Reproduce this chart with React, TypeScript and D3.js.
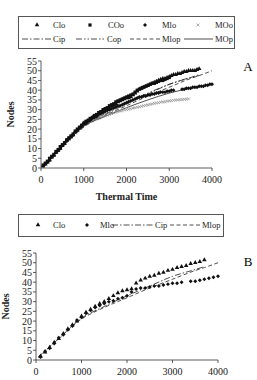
import React from "react";
import * as d3 from "d3";

// thermal time for the observed series (panel A every 50, panel B every 100)
const thermalA = [
  50, 100, 150, 200, 250, 300, 350, 400, 450, 500,
  550, 600, 650, 700, 750, 800, 850, 900, 950, 1000,
  1050, 1100, 1150, 1200, 1250, 1300, 1350, 1400, 1450, 1500,
  1550, 1600, 1650, 1700, 1750, 1800, 1850, 1900, 1950, 2000,
  2050, 2100, 2150, 2200, 2250, 2300, 2350, 2400, 2450, 2500,
  2550, 2600, 2650, 2700, 2750, 2800, 2850, 2900, 2950, 3000,
  3050, 3100, 3150, 3200, 3250, 3300, 3350, 3400, 3450, 3500,
  3550, 3600, 3650, 3700, 3750, 3800, 3850, 3900, 3950, 4000,
];
const thermalB = [
  100, 200, 300, 400, 500, 600, 700, 800, 900, 1000,
  1100, 1200, 1300, 1400, 1500, 1600, 1700, 1800, 1900, 2000,
  2100, 2200, 2300, 2400, 2500, 2600, 2700, 2800, 2900, 3000,
  3100, 3200, 3300, 3400, 3500, 3600, 3700, 3800, 3900, 4000,
];

const cloA = [
  1, 2, 3, 4, 5.5, 6.5, 8, 9, 10, 11.5,
  12.5, 14, 15, 16, 17, 18.5, 19.5, 20.5, 21.5, 23,
  23.5, 24.5, 25, 26, 26.5, 27, 28, 28.5, 29, 30,
  30.5, 31, 32, 32.5, 33, 34, 34.5, 35, 35.5, 36,
  36, 36.5, 37.5, 38.5, 39.5, 40.5, 41, 41.5, 42, 42.5,
  43, 43.5, 44, 44.5, 45, 45.5, 46, 46, 46.5, 47,
  47.5, 48, 48, 48.5, 48.5, 49, 49.5, 49.5, 50, 50,
  50, 50, 50.5, 51,
];
const cooA = [
  1.5, 2.5, 3.5, 5, 6, 7, 8.5, 9.5, 11, 12,
  13, 14.5, 15.5, 16.5, 17.5, 19, 20, 21, 22, 23,
  24, 24.5, 25.5, 26, 27, 27.5, 28.5, 29, 30, 30.5,
  31, 32, 32.5, 33, 34, 34.5, 35, 35.5, 36, 36.5,
  37, 37.5, 38, 39, 40, 40.5, 41, 41.5, 42, 42.5,
  43, 43.5, 43.5, 44, 44.5, 45, 45, 45.5, 46, 46.5,
];
const mloA = [
  1, 2, 3, 4, 5.5, 6.5, 8, 9, 10, 11.5,
  12.5, 14, 15, 16, 17, 18.5, 19.5, 20.5, 21.5, 22.5,
  23, 24, 24.5, 25.5, 26, 26.5, 27.5, 28, 28.5, 29,
  29.5, 30, 30.5, 31, 31.5, 32, 32, 32.5, 33, 33.5,
  34, 34.5, 35, 35.5, 36, 36.5, 36.5, 37, 37, 37.5,
  37.5, 38, 38, 38.5, 38.5, 39, 39, 39, 39.5, 39.5,
  40, 40, null, null, null, 40.5, 40.5, 41, 41, 41,
  41.5, 41.5, 41.5, 42, 42, 42, 42.5, 42.5, 43, 43,
];
const mooA = [
  1, 2, 3, 4.5, 5.5, 7, 8, 9, 10.5, 11.5,
  12.5, 13.5, 15, 16, 17, 18, 19, 20.5, 21.5, 22.5,
  23, 23.5, 24, 24.3, 24.8, 25.2, 25.6, 26, 26.4, 26.8,
  27.2, 27.6, 28, 28.3, 28.6, 29, 29.3, 29.5, 29.8, 30,
  30.2, 30.5, 30.8, 31, 31.2, 31.5, 31.7, 32, 32.2, 32.5,
  32.7, 33, 33.2, 33.4, 33.6, 33.8, 34, 34.1, 34.3, 34.5,
  34.6, 34.8, 34.9, 35, 35.1, 35.2, 35.3, 35.4, 35.5,
];

const cloB = [
  2, 4, 6.5, 9, 11, 13.5, 16, 18, 20, 22.5,
  24.5, 26, 27.5, 29, 30, 31.5, 33, 34.5, 35.5, 36,
  36.5, 39.5, 41, 42, 43, 43.5, 44.5, 45, 46, 46.5,
  47.5, 48, 48.5, 49.5, 50, 50.5, 51.5,
];
const mloB = [
  1.5, 4.5, 6, 8.5, 11.5, 13, 15.5, 17.5, 20.5, 22,
  24, 25.5, 27, 28, 29, 30, 30.5, 31.5, 32, 33,
  35, 36.5, 37, 37, 37.5, 38, 38, 38.5, 39, 39.5,
  39.5, 40, null, 40.5, 40.5, 41, 41.5, 42, 42.5, 43,
];

// predicted curves, given at a few knots
const knots = [50, 500, 1000, 1500, 2000, 2500, 3000, 3500, 3700, 4000];
const cip = [1.5, 11, 21.5, 27.5, 33, 38, 43, 46.5, 48, null];
const cop = [1.5, 11.5, 22, 28, 33.5, 38.5, 43, 46.5, 47.5, null];
const mlop = [1.5, 11, 21, 27, 32, 37, 41.5, 46, 47.5, 50];
const mop = [1.5, 11, 21.5, 26.5, 31, 35, 38.5, 41, null, null];

const xTicks = [0, 1000, 2000, 3000, 4000];
const yTicks = [0, 5, 10, 15, 20, 25, 30, 35, 40, 45, 50, 55];

const font = "'Liberation Serif', 'Times New Roman', serif";

type Pt = [number, number];
const pair = (t: number[], v: (number | null)[]): Pt[] =>
  v.map((d, i) => [t[i], d] as [number, number | null]).filter((p) => p[1] !== null) as Pt[];

const dash: Record<string, string> = {
  cip: "6,2,1.5,2",
  cop: "6,2,1.5,2,1.5,2",
  mlop: "4,2.5",
  mop: "none",
};

function Marker({ kind, x, y }: { kind: string; x: number; y: number }) {
  if (kind === "tri") {
    const p = d3.symbol(d3.symbolTriangle, 9)();
    return <path d={p!} transform={`translate(${x},${y})`} fill="#111" />;
  }
  if (kind === "sq") {
    return <rect x={x - 1.6} y={y - 1.6} width={3.2} height={3.2} fill="#111" />;
  }
  if (kind === "dia") {
    return <rect x={-1.4} y={-1.4} width={2.8} height={2.8} fill="#111"
      transform={`translate(${x},${y}) rotate(45)`} />;
  }
  return (
    <path d="M-1.4,-1.4L1.4,1.4M-1.4,1.4L1.4,-1.4" transform={`translate(${x},${y})`}
      stroke="#888" strokeWidth={0.7} fill="none" />
  );
}

function Panel({ x0, x1, y0, y1, obs, lines, showTitle }: any) {
  const x = d3.scaleLinear().domain([0, 4000]).range([x0, x1]);
  const y = d3.scaleLinear().domain([0, 55]).range([y0, y1]);
  const line = d3.line<Pt>().x((d) => x(d[0])).y((d) => y(d[1])).curve(d3.curveMonotoneX);
  return (
    <g fontFamily={font} fill="#222">
      {lines.map((l: any) => (
        <path key={l.id} d={line(pair(knots, l.v))!} fill="none" stroke="#222" strokeWidth={0.8}
          strokeDasharray={dash[l.id]} />
      ))}
      {obs.map((s: any) =>
        pair(s.t, s.v).map((d, i) => <Marker key={s.id + i} kind={s.kind} x={x(d[0])} y={y(d[1])} />)
      )}
      <line x1={x0} x2={x0} y1={y0} y2={y1} stroke="#333" strokeWidth={0.8} />
      <line x1={x0} x2={x1} y1={y0} y2={y0} stroke="#333" strokeWidth={0.8} />
      {yTicks.map((t) => (
        <g key={"y" + t}>
          <line x1={x0 - 3} x2={x0} y1={y(t)} y2={y(t)} stroke="#333" strokeWidth={0.8} />
          <text x={x0 - 4} y={y(t)} dy="0.35em" textAnchor="end" fontSize={10}>{t}</text>
        </g>
      ))}
      {xTicks.map((t) => (
        <g key={"x" + t}>
          <line x1={x(t)} x2={x(t)} y1={y0} y2={y0 + 3} stroke="#333" strokeWidth={0.8} />
          <text x={x(t)} y={y0 + 15} textAnchor="middle" fontSize={10}>{t}</text>
        </g>
      ))}
      <text transform={`translate(${x0 - 27},${(y0 + y1) / 2}) rotate(-90)`} textAnchor="middle"
        fontSize={10} fontWeight="bold">Nodes</text>
      {showTitle && (
        <text x={(x0 + x1) / 2} y={y0 + 32} textAnchor="middle" fontSize={10} fontWeight="bold">
          Thermal Time
        </text>
      )}
    </g>
  );
}

function LegendLine({ id, x1, x2, y }: { id: string; x1: number; x2: number; y: number }) {
  return <line x1={x1} x2={x2} y1={y} y2={y} stroke="#222" strokeWidth={0.8} strokeDasharray={dash[id]} />;
}

export default function App() {
  const lt = { fontFamily: font, fontSize: 8.5, fill: "#222" };
  return (
    <svg width={257} height={380} style={{ position: "absolute", left: 0, top: 0, background: "#fff" }}>
      {/* legend A */}
      <rect x={18.5} y={16.5} width={216} height={32} fill="none" stroke="#555" strokeWidth={1} />
      <Marker kind="tri" x={37} y={25} />
      <text x={53} y={28} {...lt}>Clo</text>
      <Marker kind="sq" x={90} y={25} />
      <text x={108} y={28} {...lt}>COo</text>
      <Marker kind="dia" x={145} y={25} />
      <text x={162} y={28} {...lt}>Mlo</text>
      <Marker kind="x" x={198} y={25} />
      <text x={215} y={28} {...lt}>MOo</text>
      <LegendLine id="cip" x1={22} x2={52} y={39} />
      <text x={53} y={42} {...lt}>Cip</text>
      <LegendLine id="cop" x1={76} x2={104} y={39} />
      <text x={107} y={42} {...lt}>Cop</text>
      <LegendLine id="mlop" x1={130} x2={162} y={39} />
      <text x={162} y={42} {...lt}>Mlop</text>
      <LegendLine id="mop" x1={184} x2={213} y={39} />
      <text x={215} y={42} {...lt}>MOp</text>

      <Panel x0={41} x1={212} y0={168} y1={61} showTitle
        obs={[
          { id: "moo", kind: "x", t: thermalA, v: mooA },
          { id: "mlo", kind: "dia", t: thermalA, v: mloA },
          { id: "coo", kind: "sq", t: thermalA, v: cooA },
          { id: "clo", kind: "tri", t: thermalA, v: cloA },
        ]}
        lines={[{ id: "cip", v: cip }, { id: "cop", v: cop }, { id: "mlop", v: mlop }, { id: "mop", v: mop }]} />
      <text x={248} y={71} textAnchor="middle" fontFamily={font} fontSize={13}>A</text>

      {/* legend B */}
      <rect x={18.5} y={214.5} width={205} height={22} fill="none" stroke="#555" strokeWidth={1} />
      <Marker kind="tri" x={38} y={225} />
      <text x={53} y={228} {...lt}>Clo</text>
      <Marker kind="dia" x={87} y={225} />
      <text x={100} y={228} {...lt}>Mlo</text>
      <LegendLine id="cip" x1={112} x2={154} y={225} />
      <text x={155} y={228} {...lt}>Cip</text>
      <LegendLine id="mlop" x1={170} x2={202} y={225} />
      <text x={202} y={228} {...lt}>Mlop</text>

      <Panel x0={36} x1={218} y0={360} y1={253}
        obs={[
          { id: "mlo", kind: "dia", t: thermalB, v: mloB },
          { id: "clo", kind: "tri", t: thermalB, v: cloB },
        ]}
        lines={[{ id: "cip", v: cip }, { id: "mlop", v: mlop }]} />
      <text x={248} y={266} textAnchor="middle" fontFamily={font} fontSize={13}>B</text>
    </svg>
  );
}
